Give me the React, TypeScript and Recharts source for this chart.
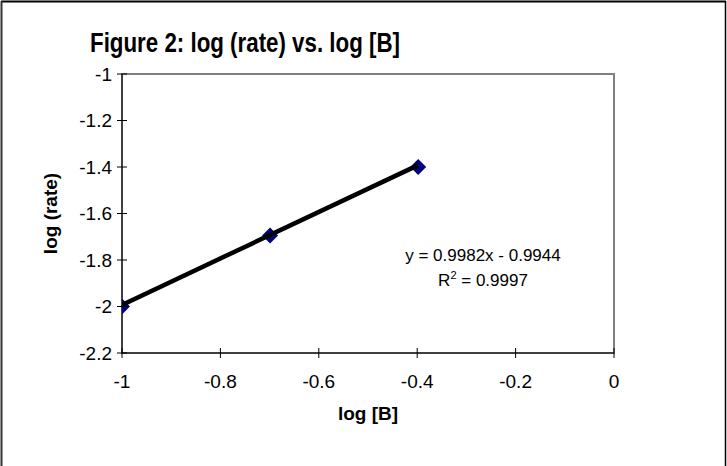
import { ScatterChart, Scatter, XAxis, YAxis, ReferenceArea } from "recharts";

const logB = [-1, -0.699, -0.398];
const logRate = [-2.0, -1.695, -1.4];

// end points of the linear trend line as drawn
const trendX = [-1, -0.398];
const trendY = [-1.993, -1.392];

const xTicks = [-1, -0.8, -0.6, -0.4, -0.2, 0];
const yTicks = [-2.2, -2, -1.8, -1.6, -1.4, -1.2, -1];

const TITLE = "Figure 2: log (rate) vs. log [B]";
const EQUATION = "y = 0.9982x - 0.9944";
const R_SQUARED = "0.9997";

const FONT = "'Liberation Sans', Arial, sans-serif";

const points = logB.map((x, i) => ({ x, y: logRate[i] }));
const trend = trendX.map((x, i) => ({ x, y: trendY[i] }));

const W = 727;
const H = 466;
const PLOT = { left: 122, top: 74, right: 614, bottom: 353 };

function Diamond(props: any) {
  const { cx, cy } = props;
  const r = 8;
  return (
    <path
      d={`M${cx},${cy - r} L${cx + r},${cy} L${cx},${cy + r} L${cx - r},${cy} Z`}
      fill="#000080"
    />
  );
}

function YTick(props: any) {
  const { x, y, payload } = props;
  return (
    <g>
      <line x1={x - 5} x2={x + 5} y1={y} y2={y} stroke="#000" />
      <text x={x - 10} y={y} dy="0.35em" textAnchor="end" fontSize={19} fontFamily={FONT} fill="#000">
        {String(payload.value)}
      </text>
    </g>
  );
}

function XTick(props: any) {
  const { x, y, payload } = props;
  return (
    <g>
      <line x1={x} x2={x} y1={y - 5} y2={y + 5} stroke="#000" />
      <text x={x} y={y + 28} dy="0.35em" textAnchor="middle" fontSize={19} fontFamily={FONT} fill="#000">
        {String(payload.value)}
      </text>
    </g>
  );
}

export default function App() {
  const midY = (PLOT.top + PLOT.bottom) / 2;
  const midX = (PLOT.left + PLOT.right) / 2;
  return (
    <div style={{ position: "absolute", left: 0, top: 0, width: W, height: H, background: "#fff" }}>
      <ScatterChart
        width={W}
        height={H}
        margin={{ top: PLOT.top, right: W - PLOT.right, bottom: H - PLOT.bottom - 40, left: PLOT.left - 60 }}
      >
        <ReferenceArea x1={-1} x2={0} y1={-2.2} y2={-1} fill="none" stroke="#808080" strokeWidth={2} />
        <XAxis
          type="number"
          dataKey="x"
          domain={[-1, 0]}
          ticks={xTicks}
          height={40}
          tickSize={0}
          tickMargin={0}
          tickLine={false}
          axisLine={{ stroke: "#000", strokeWidth: 1 }}
          tick={<XTick />}
          interval={0}
          allowDataOverflow
        />
        <YAxis
          type="number"
          dataKey="y"
          domain={[-2.2, -1]}
          ticks={yTicks}
          width={60}
          tickSize={0}
          tickMargin={0}
          tickLine={false}
          axisLine={{ stroke: "#000", strokeWidth: 1 }}
          tick={<YTick />}
          interval={0}
          allowDataOverflow
        />
        <Scatter data={points} shape={<Diamond />} isAnimationActive={false} />
        <Scatter
          data={trend}
          line={{ stroke: "#000", strokeWidth: 4.5 }}
          shape={() => null}
          isAnimationActive={false}
        />
      </ScatterChart>
      <svg
        width={W}
        height={H}
        style={{ position: "absolute", left: 0, top: 0, pointerEvents: "none" }}
      >
        <line x1={1} x2={726} y1={1.5} y2={1.5} stroke="#000" strokeWidth={2} />
        <line x1={1.5} x2={1.5} y1={1} y2={H} stroke="#333" strokeWidth={2} />
        <line x1={725.5} x2={725.5} y1={1} y2={H} stroke="#000" strokeWidth={1.5} />
        <text
          x={90}
          y={52}
          fontSize={27}
          fontWeight="bold"
          fontFamily={FONT}
          textLength={310}
          lengthAdjust="spacingAndGlyphs"
          fill="#000"
        >
          {TITLE}
        </text>
        <text
          x={50}
          y={midY}
          transform={`rotate(-90 50 ${midY})`}
          dy="0.35em"
          textAnchor="middle"
          fontSize={19}
          fontWeight="bold"
          fontFamily={FONT}
          fill="#000"
        >
          log (rate)
        </text>
        <text
          x={midX}
          y={413}
          dy="0.35em"
          textAnchor="middle"
          fontSize={19}
          fontWeight="bold"
          fontFamily={FONT}
          fill="#000"
        >
          log [B]
        </text>
        <text x={483} y={255} dy="0.35em" textAnchor="middle" fontSize={17} fontFamily={FONT} fill="#000">
          {EQUATION}
        </text>
        <text x={483} y={280} dy="0.35em" textAnchor="middle" fontSize={17} fontFamily={FONT} fill="#000">
          R<tspan fontSize={11} dy={-7}>2</tspan>
          <tspan dy={7}> = {R_SQUARED}</tspan>
        </text>
      </svg>
    </div>
  );
}
